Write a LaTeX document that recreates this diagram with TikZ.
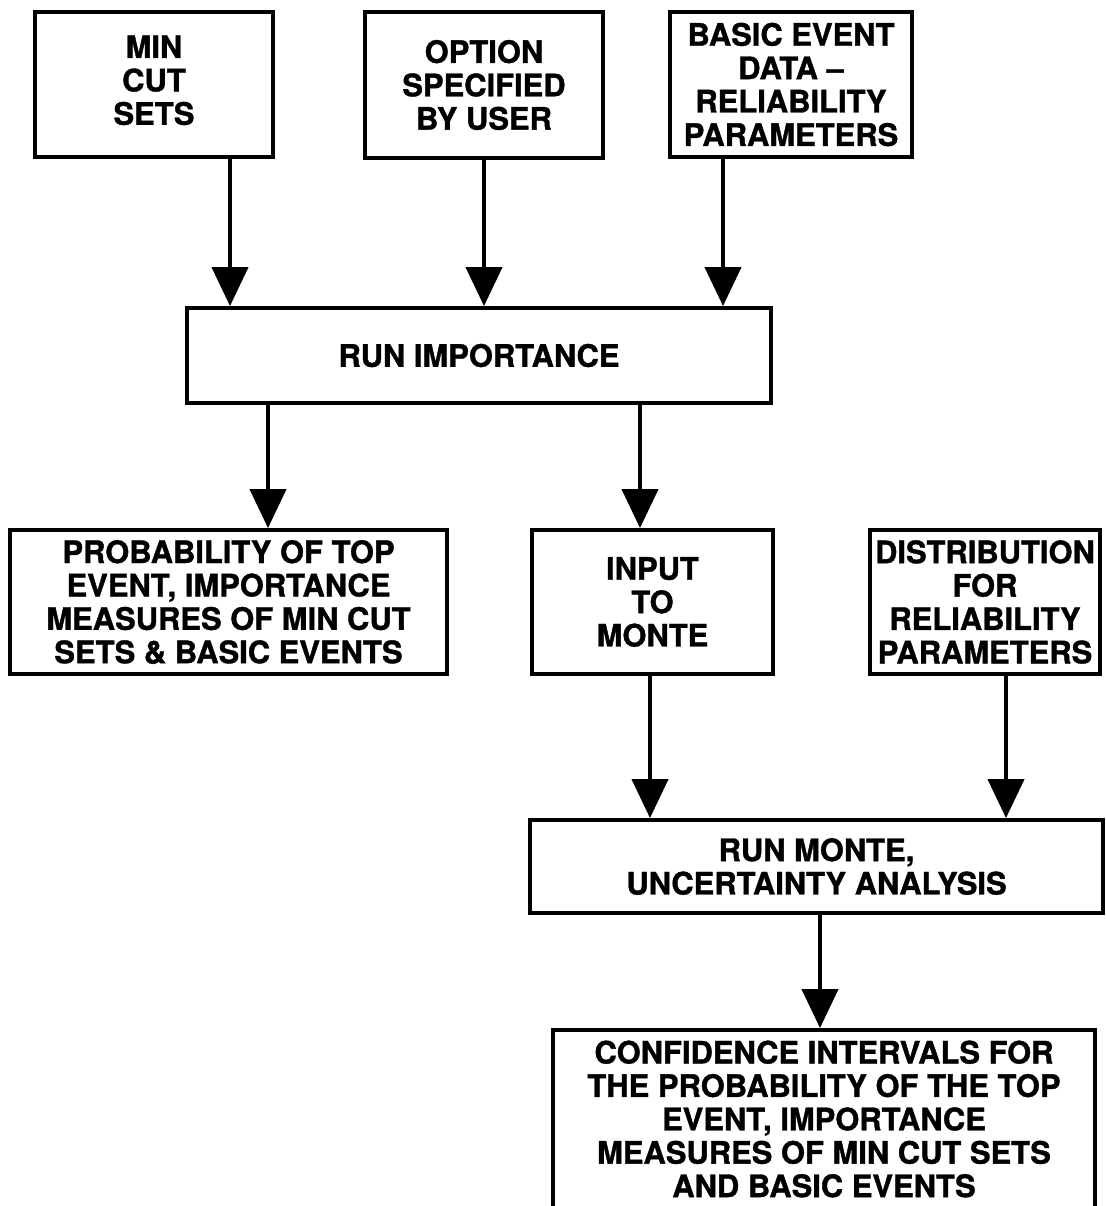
\documentclass[tikz,border=0pt]{standalone}
\usepackage{fontspec}
\setmainfont{TeX Gyre Heros}[BoldFeatures={FakeBold=1.2}]
\usetikzlibrary{arrows.meta}

\begin{document}
\begin{tikzpicture}[line width=2.2pt,
  box/.style={draw,align=center,inner sep=0pt,font=\fontsize{17.6}{19}\selectfont\bfseries},
  flow/.style={-{Triangle[width=0.72cm,length=0.78cm]},line width=2.4pt}]

\useasboundingbox (0,0) rectangle (22.1,-24.12);

% inputs
\node[box,minimum width=4.76cm,minimum height=2.9cm] (BoxMinCut) at (3.08,-1.69) {MIN\\CUT\\SETS\\[-14pt]};
\node[box,minimum width=4.76cm,minimum height=2.92cm] (BoxOption) at (9.68,-1.70) {OPTION\\SPECIFIED\\BY USER};
\node[box,minimum width=4.84cm,minimum height=2.9cm] (BoxEventData) at (15.82,-1.69) {BASIC EVENT\\DATA --\\RELIABILITY\\PARAMETERS};

% importance
\node[box,minimum width=11.68cm,minimum height=1.9cm] (BoxRunImp) at (9.58,-7.11) {RUN IMPORTANCE};

\node[box,minimum width=8.74cm,minimum height=2.88cm] (BoxProb) at (4.57,-12.04) {PROBABILITY OF TOP\\EVENT, IMPORTANCE\\MEASURES OF MIN CUT\\SETS \& BASIC EVENTS};
\node[box,minimum width=4.82cm,minimum height=2.88cm] (BoxInput) at (13.05,-12.04) {INPUT\\TO\\MONTE};
\node[box,minimum width=4.6cm,minimum height=2.88cm] (BoxDistrib) at (19.70,-12.04) {DISTRIBUTION\\FOR\\RELIABILITY\\PARAMETERS};

% monte
\node[box,minimum width=11.46cm,minimum height=1.86cm] (BoxRunMonte) at (16.33,-17.33) {RUN MONTE,\\UNCERTAINTY ANALYSIS};

\node[box,minimum width=10.84cm,minimum height=3.56cm] (BoxConfid) at (16.48,-22.38) {CONFIDENCE INTERVALS FOR\\THE PROBABILITY OF THE TOP\\EVENT, IMPORTANCE\\MEASURES OF MIN CUT SETS\\AND BASIC EVENTS};

\draw[flow] ([xshift=1.52cm]BoxMinCut.south) -- ([xshift=1.52cm]BoxMinCut.south |- BoxRunImp.north);
\draw[flow] (BoxOption.south) -- (BoxOption.south |- BoxRunImp.north);
\draw[flow] ([xshift=-1.36cm]BoxEventData.south) -- ([xshift=-1.36cm]BoxEventData.south |- BoxRunImp.north);

\draw[flow] ([xshift=0.79cm]BoxProb.north |- BoxRunImp.south) -- ([xshift=0.79cm]BoxProb.north);
\draw[flow] ([xshift=-0.25cm]BoxInput.north |- BoxRunImp.south) -- ([xshift=-0.25cm]BoxInput.north);

\draw[flow] ([xshift=-0.05cm]BoxInput.south) -- ([xshift=-0.05cm]BoxInput.south |- BoxRunMonte.north);
\draw[flow] ([xshift=0.42cm]BoxDistrib.south) -- ([xshift=0.42cm]BoxDistrib.south |- BoxRunMonte.north);

\draw[flow] ([xshift=-0.08cm]BoxConfid.north |- BoxRunMonte.south) -- ([xshift=-0.08cm]BoxConfid.north);

\end{tikzpicture}
\end{document}
